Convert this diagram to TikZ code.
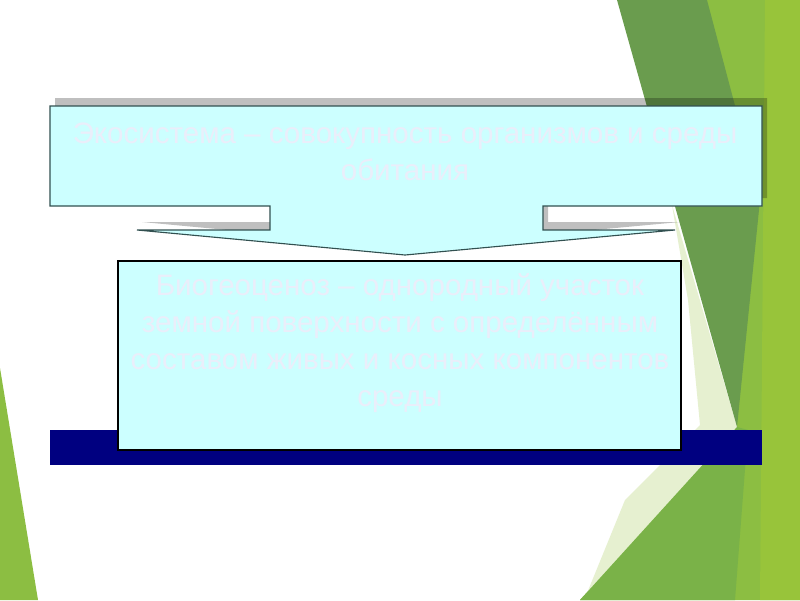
\documentclass[tikz,border=0pt]{standalone}
\usepackage{fontspec}
\setmainfont{Liberation Sans}
\usepackage{xcolor}
\usepackage{tikz}
\usetikzlibrary{positioning}

\definecolor{boxcyan}{RGB}{204,255,255}
\definecolor{navybar}{RGB}{0,0,128}
\definecolor{leafdark}{RGB}{106,156,78}
\definecolor{leafmid}{RGB}{122,178,72}
\definecolor{leaflight}{RGB}{140,190,66}
\definecolor{leafyellow}{RGB}{152,196,58}
\definecolor{leafpale}{RGB}{230,240,208}
\definecolor{paletext}{RGB}{234,238,250}
\definecolor{calloutline}{RGB}{50,80,80}

\tikzset{
  slidetext/.style={text=paletext, font=\fontsize{21}{26.5}\selectfont, align=center},
}

\begin{document}
\begin{tikzpicture}[x=0.025cm, y=-0.025cm]
        \fill[white] (0,0) rectangle (800,600);
        
        % green facets of the slide
        \fill[leaflight] (700,0) -- (800,0) -- (800,600) -- (580,600) -- (737,427) -- cycle;
        \fill[leafpale] (672,205) -- (737,427) -- (585,598) -- (625,500) -- (700,425) -- (688,300) -- cycle;
        \fill[leafmid] (580,600) -- (737,427) -- (748,430) -- (735,600) -- cycle;
        \fill[leafdark] (617,0) -- (707,0) -- (760,200) -- (737,427) -- cycle;
        \fill[leafyellow] (765,0) -- (800,0) -- (800,600) -- (760,600) -- cycle;
        \fill[leaflight] (0,368) -- (38,600) -- (0,600) -- cycle;
        
        \fill[navybar] (50,430) rectangle (762,465);
        
        % callout with its shadow
        \fill[black, opacity=0.25, shift={(5,-8)}] (50,106) -- (762,106) -- (762,206) -- (543,206) -- (543,230) -- (675,230) -- (405,255) -- (137,230) -- (270,230) -- (270,206) -- (50,206) -- cycle;
        \filldraw[fill=boxcyan, draw=calloutline, line width=0.8pt] (50,106) -- (762,106) -- (762,206) -- (543,206) -- (543,230) -- (675,230) -- (405,255) -- (137,230) -- (270,230) -- (270,206) -- (50,206) -- cycle;
        
        \node[draw=black, line width=2pt, fill=boxcyan, minimum width=14.07cm, minimum height=4.72cm] (bgcbox) at (399.5,355.5) {};
        
        \node[slidetext] (ecotext) at (405,152) {Экосистема – совокупность организмов и среды\\обитания};
        \node[slidetext] (bgctext) at (400,343) {Биогеоценоз – однородный участок\\земной поверхности с определённым\\составом живых и косных компонентов\\среды};
\end{tikzpicture}
\end{document}
